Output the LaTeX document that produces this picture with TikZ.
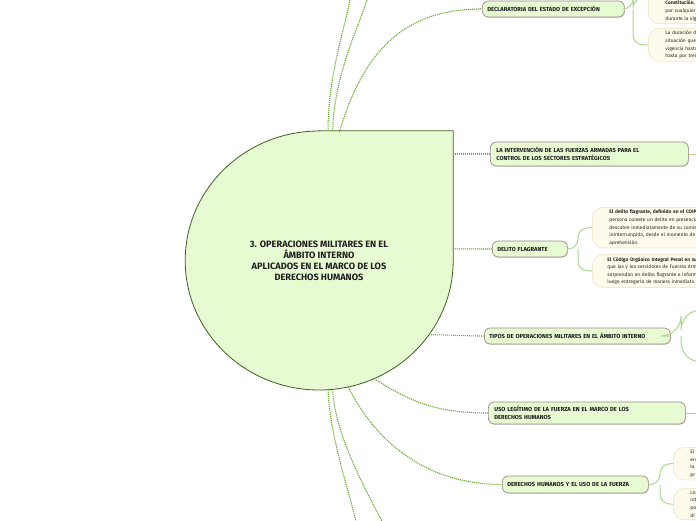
\documentclass[tikz,border=0pt]{standalone}
\usepackage{fontspec}
\setmainfont{Fira Sans}
\usetikzlibrary{positioning, shapes.geometric, backgrounds, shadows}
\definecolor{rootFill}{HTML}{E7FBD3}
\definecolor{rootLine}{HTML}{3E5F1E}
\definecolor{branchFill}{HTML}{E7FBD3}
\definecolor{branchLine}{HTML}{A08686}
\definecolor{linkColor}{HTML}{68A82F}
\definecolor{leafLink}{HTML}{ABD88E}
\definecolor{leafFill}{HTML}{FFFBEC}
\definecolor{leafLine}{HTML}{F2E9CF}
\tikzset{
    root node/.style={
        ellipse,
        minimum width=268pt,
        minimum height=259pt,
        inner sep=0pt,
        align=center,
        text=black!88,
        font=\bfseries\fontsize{9.2}{11}\selectfont,
    },
    root shape/.style={
        fill=rootFill,
        draw=rootLine,
        line width=0.8pt,
    },
    branch/.style={
        rectangle,
        rounded corners=6pt,
        fill=branchFill,
        draw=branchLine,
        line width=0.7pt,
        drop shadow={shadow xshift=0.5pt, shadow yshift=-0.8pt, opacity=0.3},
        anchor=west,
        inner xsep=5pt,
        inner ysep=1.5pt,
        minimum height=16pt,
        text width=#1,
        align=left,
        text=black!90,
        font=\bfseries\fontsize{5.8}{7.8}\selectfont,
    },
    leaf/.style={
        rectangle,
        rounded corners=11pt,
        fill=leafFill,
        draw=leafLine,
        line width=0.9pt,
        anchor=north west,
        inner xsep=17pt,
        inner ysep=2.5pt,
        text width=#1,
        align=left,
        text=black!85,
        font=\fontsize{4.9}{7.6}\selectfont,
    },
    link/.style={
        linkColor,
        line width=1.1pt,
        dash pattern=on 1.1pt off 0.9pt,
    },
    leaf link/.style={
        leafLink,
        line width=1pt,
        rounded corners=#1,
    },
    leaf link/.default=10pt,
}

\begin{document}
\begin{tikzpicture}[x=1pt, y=-1pt]

\useasboundingbox (0,0) rectangle (696,520);
\clip (0,0) rectangle (696,520);

% ── CENTRAL TOPIC ──────────────────────────────────────────────────

\node[root node] (root) at (319,260.5) {%
    3. OPERACIONES MILITARES EN EL\\
    ÁMBITO INTERNO\\
    APLICADOS EN EL MARCO DE LOS\\
    DERECHOS HUMANOS
};
\begin{scope}[on background layer]
\draw[root shape] (root.north) -- (root.north -| root.east) -- (root.east)
    arc[start angle=0, end angle=-270, x radius=134pt, y radius=129.5pt] -- cycle;
\end{scope}

% ── MAIN BRANCHES ──────────────────────────────────────────────────

\node[branch=132pt] (decl) at (482,9) {DECLARATORIA DEL ESTADO DE EXCEPCIÓN};
\node[branch=186pt, minimum height=24pt, inner xsep=6pt] (inter) at (490,154) {%
    LA INTERVENCIÓN DE LAS FUERZAS ARMADAS PARA EL\\
    CONTROL DE LOS SECTORES ESTRATÉGICOS};
\node[branch=65pt] (delito) at (492,249) {DELITO FLAGRANTE};
\node[branch=176pt] (tipos) at (484,336) {TIPOS DE OPERACIONES MILITARES EN EL ÁMBITO INTERNO};
\node[branch=185pt, minimum height=22pt, inner xsep=6pt] (uso) at (488,413) {%
    USO LEGÍTIMO DE LA FUERZA EN EL MARCO DE LOS\\
    DERECHOS HUMANOS};
\node[branch=136pt, minimum height=17pt] (dh) at (502,484.5) {DERECHOS HUMANOS Y EL USO DE LA FUERZA};

% ── LEAVES ─────────────────────────────────────────────────────────

\node[leaf=140pt, anchor=south west] (decl-l1) at (648,24) {%
    \rule{0pt}{30pt}\textbf{Constitución.}\\
    por cualquier a\\
    durante la vig};
\node[leaf=140pt] (decl-l2) at (648,28) {%
    La duración de\\
    situación que s\\
    vigencia hasta\\
    hasta por trei};

\node[leaf=200pt] (delito-l1) at (592,207) {%
    \textbf{El delito flagrante, definido en el COIP}\\
    persona comete un delito en presencia\\
    descubre inmediatamente de su comis\\
    ininterrumpida, desde el momento de\\
    aprehensión.};
\node[leaf=200pt, inner xsep=15pt] (delito-l2) at (592,254) {%
    \textbf{El Código Orgánico Integral Penal en su a}\\
    que las y los servidores de Fuerzas Armad\\
    sorprendan en delito flagrante e inform\\
    luego entregarlo de manera inmediata a};

\node[leaf=100pt] (dh-l1) at (673,447) {%
    El\\
    en\\
    la\\
    pr};
\node[leaf=100pt] (dh-l2) at (673,488) {%
    Lo\\
    int\\
    po\\
    di};

% ── CONNECTORS FROM THE CENTRE ─────────────────────────────────────

\coordinate (up-a) at (352,-12);
\coordinate (up-b) at (371,-12);
\coordinate (down-a) at (359,535);
\coordinate (down-b) at (389,535);

\draw[link] (root.86) .. controls +(0,-60) and +(-6,40) .. (up-a);
\draw[link] (root.84.5) .. controls +(2,-60) and +(-12,40) .. (up-b);
\draw[link] (root.81) .. controls +(25,-85) and +(-75,0) .. (decl.west);
\draw[link] (root.east |- inter.west) -- (inter.west);
\draw[link] (root.5) -- (delito.west);
\draw[link] (root.-34) .. controls +(20,0) and +(-20,0) .. (tipos.west);
\draw[link] (root.-65) .. controls +(30,18) and +(-60,0) .. (uso.west);
\draw[link] (root.-77) .. controls +(25,50) and +(-80,0) .. (dh.west);
\draw[link] (root.-84.5) .. controls +(3,50) and +(-20,-40) .. (down-b);
\draw[link] (root.-86) .. controls +(2,50) and +(-8,-40) .. (down-a);

% ── CONNECTORS TO THE LEAVES ───────────────────────────────────────

\coordinate (decl-j) at (633,9);
\coordinate (delito-j) at (578,249);
\coordinate (tipos-j) at (681,336);
\coordinate (dh-j) at (660,484.5);
\coordinate (inter-out) at (712,154);
\coordinate (uso-out) at (712,413);
\coordinate (tipos-a) at (705,310);
\coordinate (tipos-b) at (705,362);

\draw[leaf link] (decl.east) -- (decl-j) |- (decl-l1.west);
\draw[leaf link] (decl-j) |- (decl-l2.west);
\draw[leaf link] (inter.east) -- (inter-out);
\draw[leaf link] (delito.east) -- (delito-j) |- (delito-l1.west);
\draw[leaf link] (delito-j) |- (delito-l2.west);
\draw[leaf link=20pt] (tipos.east) -- (tipos-j) |- (tipos-a);
\draw[leaf link=20pt] (tipos-j) |- (tipos-b);
\draw[leaf link] (uso.east) -- (uso-out);
\draw[leaf link] (dh.east) -- (dh-j) |- (dh-l1.west);
\draw[leaf link] (dh-j) |- (dh-l2.west);

\end{tikzpicture}
\end{document}
